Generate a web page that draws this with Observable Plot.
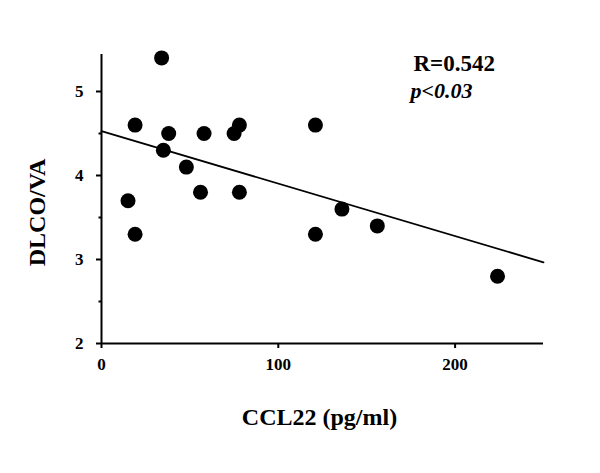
<!DOCTYPE html>
<html>
<head>
<meta charset="utf-8">
<script src="https://cdn.jsdelivr.net/npm/d3@7"></script>
<script src="https://cdn.jsdelivr.net/npm/@observablehq/plot@0.6"></script>
<style>
  html, body { margin: 0; padding: 0; background: #fff; }
  svg { display: block; }
</style>
</head>
<body>
<div id="chart"></div>
<script>
// Data
const ccl22 = [34, 19, 38, 35, 58, 75, 78, 48, 56, 78, 15, 19, 121, 121, 136, 156, 224];
const dlcova = [5.4, 4.6, 4.5, 4.3, 4.5, 4.5, 4.6, 4.1, 3.8, 3.8, 3.7, 3.3, 4.6, 3.3, 3.6, 3.4, 2.8];
const xDomain = [0, 250];
const yDomain = [2, 5.5];
const xTicks = [0, 100, 200];
const yTicks = [2, 3, 4, 5];
const yMinorTicks = [2.5, 3.5, 4.5];
const rText = "R=0.542";
const pText = "p<0.03";
const xLabel = "CCL22 (pg/ml)";
const yLabel = "DLCO/VA";

const points = ccl22.map((x, i) => ({x, y: dlcova[i]}));

// least-squares fit, drawn across the whole x domain
const mx = d3.mean(ccl22), my = d3.mean(dlcova);
const slope = d3.sum(points, d => (d.x - mx) * (d.y - my)) / d3.sum(points, d => (d.x - mx) ** 2);
const intercept = my - slope * mx;
const fit = xDomain.map(x => ({x, y: intercept + slope * x}));

const font = "'Liberation Serif', 'Times New Roman', Times, serif";

const chart = Plot.plot({
  width: 600,
  height: 473,
  marginLeft: 101,
  marginRight: 57,
  marginTop: 49,
  marginBottom: 130,
  style: {fontFamily: font, fontWeight: "bold", fontSize: "17px", background: "#fff", color: "#000"},
  x: {domain: xDomain},
  y: {domain: yDomain},
  marks: [
    Plot.axisX({ticks: xTicks, tickSize: 5, tickPadding: 9, tickFormat: d => String(d), fontSize: 17, fontWeight: "bold", label: null, strokeWidth: 2}),
    Plot.axisY({ticks: yTicks, tickSize: 5, tickPadding: 13, tickFormat: d => String(d), fontSize: 17, fontWeight: "bold", label: null, strokeWidth: 2}),
    Plot.axisY({ticks: yMinorTicks, tickSize: 2.5, text: null, label: null, strokeWidth: 2}),
    Plot.ruleX([xDomain[0]], {y1: yDomain[0], y2: yDomain[1], strokeWidth: 2, insetBottom: -5}),
    Plot.ruleY([yDomain[0]], {x1: xDomain[0], x2: xDomain[1], strokeWidth: 2}),
    Plot.line(fit, {x: "x", y: "y", stroke: "#000", strokeWidth: 1.8}),
    Plot.dot(points, {x: "x", y: "y", r: 7.5, fill: "#000", stroke: "none"}),
    Plot.text([rText], {frameAnchor: "top-right", textAnchor: "start", dx: -130, dy: 5, fontSize: 23, fontWeight: "bold", fill: "#000"}),
    Plot.text([pText], {frameAnchor: "top-right", textAnchor: "start", dx: -133, dy: 33, fontSize: 22, fontWeight: "bold", fontStyle: "italic", fill: "#000"}),
    Plot.text([xLabel], {frameAnchor: "bottom", textAnchor: "middle", dx: -3, dy: 81, fontSize: 24, fontWeight: "bold", fill: "#000"}),
    Plot.text([yLabel], {frameAnchor: "left", textAnchor: "middle", rotate: -90, dx: -64, dy: 16, fontSize: 24, fontWeight: "bold", fill: "#000"})
  ]
});
document.getElementById("chart").appendChild(chart);
</script>
</body>
</html>
